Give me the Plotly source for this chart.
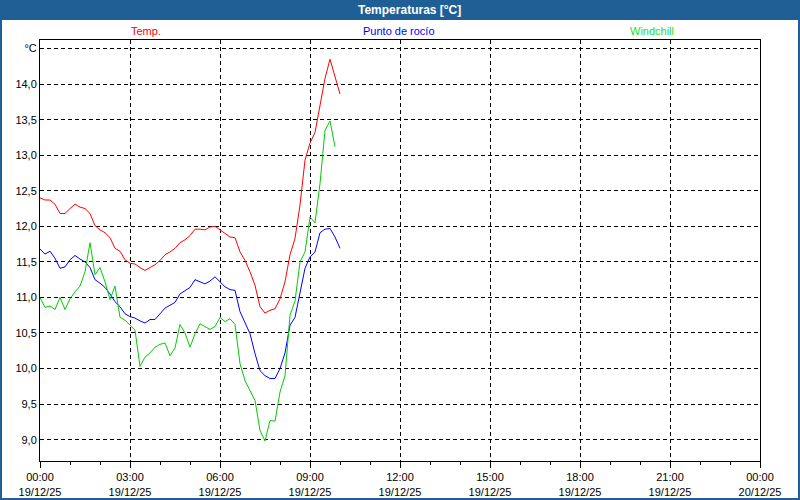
import plotly.graph_objects as go
import pandas as pd

times = pd.date_range("2025-12-19 00:00", "2025-12-19 10:00", freq="10min")

temp = [12.40, 12.37, 12.37, 12.31, 12.18, 12.18, 12.25, 12.31, 12.27, 12.25,
        12.18, 12.01, 11.95, 11.91, 11.84, 11.69, 11.65, 11.53, 11.48, 11.47,
        11.42, 11.38, 11.42, 11.46, 11.52, 11.60, 11.64, 11.69, 11.77, 11.81,
        11.87, 11.96, 11.96, 11.95, 11.99, 12.00, 11.95, 11.90, 11.85, 11.84,
        11.64, 11.52, 11.36, 11.17, 10.87, 10.78, 10.82, 10.84, 10.98, 11.22,
        11.60, 11.83, 12.30, 12.93, 13.17, 13.32, 13.70, 14.08, 14.35, 14.10,
        13.86]

dew = [11.68, 11.61, 11.65, 11.55, 11.41, 11.43, 11.53, 11.59, 11.54, 11.50,
       11.42, 11.25, 11.20, 11.14, 11.05, 10.94, 10.87, 10.77, 10.73, 10.71,
       10.67, 10.64, 10.69, 10.69, 10.77, 10.85, 10.89, 10.93, 11.05, 11.10,
       11.14, 11.25, 11.22, 11.19, 11.23, 11.29, 11.22, 11.15, 11.11, 11.10,
       10.80, 10.65, 10.49, 10.21, 9.97, 9.90, 9.86, 9.86, 10.00, 10.22,
       10.61, 10.72, 11.05, 11.41, 11.57, 11.64, 11.91, 11.96, 11.97, 11.85,
       11.69]

windchill = [11.00, 10.86, 10.88, 10.83, 11.00, 10.83, 10.98, 11.08, 11.16, 11.36,
             11.77, 11.32, 11.42, 11.22, 10.97, 11.16, 10.72, 10.68, 10.61, 10.54,
             10.03, 10.16, 10.22, 10.30, 10.34, 10.36, 10.18, 10.29, 10.62, 10.50,
             10.30, 10.49, 10.63, 10.59, 10.55, 10.59, 10.72, 10.66, 10.70, 10.62,
             10.07, 9.83, 9.69, 9.55, 9.13, 8.98, 9.27, 9.26, 9.67, 9.90,
             10.75, 10.95, 11.50, 11.64, 12.13, 12.05, 12.60, 13.35, 13.48, 13.12,
             None]

x_tickvals = pd.date_range("2025-12-19 00:00", "2025-12-20 00:00", freq="3h")
x_ticktext = [f"{t:%H:%M}<br>{t:%d/%m/%y}" for t in x_tickvals]
y_tickvals = [9.0, 9.5, 10.0, 10.5, 11.0, 11.5, 12.0, 12.5, 13.0, 13.5, 14.0, 14.5]
y_ticktext = ["9,0", "9,5", "10,0", "10,5", "11,0", "11,5", "12,0", "12,5",
              "13,0", "13,5", "14,0", "°C"]

RED = "#FF0000"
BLUE = "#0000FF"
GREEN = "#00CC00"
FRAME_BLUE = "#1F5F96"
FONT = "Liberation Sans"

fig = go.Figure()
for name, vals, col in [("Temp.", temp, RED), ("Punto de rocío", dew, BLUE),
                        ("Windchill", windchill, GREEN)]:
    fig.add_trace(go.Scatter(x=times, y=vals, mode="lines", name=name,
                             line=dict(color=col, width=1), connectgaps=False))

W, H = 800, 500
L, R, T, B = 40, 40, 40, 39
pw, ph = W - L - R, H - T - B


def px(xp):
    return (xp - L) / pw


def py(yp):
    return (H - B - yp) / ph


shapes = [
    dict(type="rect", xref="paper", yref="paper", x0=px(0), x1=px(W), y0=py(20), y1=py(0),
         fillcolor=FRAME_BLUE, line=dict(width=0), layer="above"),
    dict(type="rect", xref="paper", yref="paper", x0=px(1), x1=px(W - 1), y0=py(H - 1), y1=py(1),
         fillcolor="rgba(0,0,0,0)", line=dict(color=FRAME_BLUE, width=2), layer="above"),
]

annotations = [
    dict(text="<b>Temperaturas [°C]</b>", x=px(410), y=py(10), xref="paper", yref="paper",
         showarrow=False, font=dict(family=FONT, size=12, color="white"),
         xanchor="center", yanchor="middle"),
    dict(text="Temp.", x=px(146), y=py(31), xref="paper", yref="paper", showarrow=False,
         font=dict(family=FONT, size=11, color=RED), xanchor="center", yanchor="middle"),
    dict(text="Punto de rocío", x=px(399), y=py(31), xref="paper", yref="paper", showarrow=False,
         font=dict(family=FONT, size=11, color=BLUE), xanchor="center", yanchor="middle"),
    dict(text="Windchill", x=px(652), y=py(31), xref="paper", yref="paper", showarrow=False,
         font=dict(family=FONT, size=11, color="#22DD22"), xanchor="center", yanchor="middle"),
]

fig.update_layout(
    width=W, height=H,
    margin=dict(l=L, r=R, t=T, b=B, pad=0, autoexpand=False),
    paper_bgcolor="white", plot_bgcolor="white",
    showlegend=False,
    font=dict(family=FONT, size=11, color="#000000"),
    shapes=shapes, annotations=annotations,
)

fig.update_xaxes(
    type="date", automargin=False,
    range=["2025-12-19 00:00", "2025-12-20 00:00"],
    tickmode="array", tickvals=x_tickvals, ticktext=x_ticktext,
    ticks="outside", ticklen=6, tickcolor="black", tickwidth=1,
    ticklabelstandoff=0,
    minor=dict(dtick=3600000, tick0="2025-12-19 00:00", ticks="outside", ticklen=3,
               tickcolor="black", showgrid=False),
    showgrid=True, gridcolor="black", gridwidth=1, griddash="4px,3px",
    showline=True, linecolor="black", linewidth=1, mirror=True,
    zeroline=False, tickangle=0,
    tickfont=dict(family=FONT, size=11, color="#000000"),
)

fig.update_yaxes(
    automargin=False,
    range=[8.70, 14.62],
    tickmode="array", tickvals=y_tickvals, ticktext=y_ticktext,
    ticks="", ticklen=0,
    showgrid=True, gridcolor="black", gridwidth=1, griddash="4px,3px",
    showline=True, linecolor="black", linewidth=1, mirror=True,
    zeroline=False,
    tickfont=dict(family=FONT, size=11, color="#000000"),
)

fig.write_html("out.html", config={"displayModeBar": False},
               post_script="document.body.style.margin='0';")
